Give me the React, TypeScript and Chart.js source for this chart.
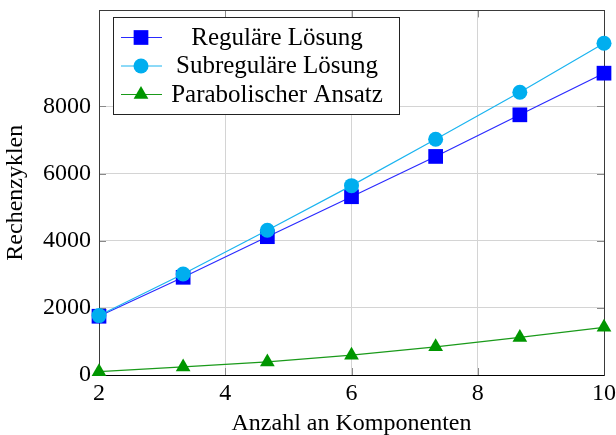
import React, { useEffect, useRef } from 'react';
import { Chart, registerables } from 'chart.js';

Chart.register(...registerables);

const xValues = [2, 3.333, 4.667, 6, 7.333, 8.667, 10];
const regular = [1750, 2910, 4120, 5310, 6510, 7750, 8990];
const subregular = [1770, 3010, 4310, 5640, 7020, 8420, 9880];
const parabolic = [100, 240, 390, 590, 840, 1120, 1420];
const seriesLabels = ['Reguläre Lösung', 'Subreguläre Lösung', 'Parabolischer Ansatz'];
const xTicks = [2, 4, 6, 8, 10];
const yTicks = [0, 2000, 4000, 6000, 8000];
const xTitle = 'Anzahl an Komponenten';
const yTitle = 'Rechenzyklen';

const FONT = '"Liberation Serif", "Times New Roman", serif';

function drawMarker(ctx: CanvasRenderingContext2D, style: string, x: number, y: number, r: number, color: string) {
  ctx.save();
  ctx.fillStyle = color;
  ctx.beginPath();
  if (style === 'rect') {
    const s = Math.SQRT1_2 * r;
    ctx.rect(x - s, y - s, 2 * s, 2 * s);
  } else if (style === 'triangle') {
    for (let k = 0; k < 3; k++) {
      const a = (k * 2 * Math.PI) / 3;
      const px = x + Math.sin(a) * r;
      const py = y - Math.cos(a) * r;
      if (k === 0) ctx.moveTo(px, py);
      else ctx.lineTo(px, py);
    }
    ctx.closePath();
  } else {
    ctx.arc(x, y, r, 0, Math.PI * 2);
  }
  ctx.fill();
  ctx.restore();
}

const framePlugin = {
  id: 'frame',
  beforeDatasetsDraw(chart: any) {
    const { ctx, chartArea: a, scales } = chart;
    ctx.save();
    ctx.strokeStyle = '#8a8a8a';
    ctx.lineWidth = 1;
    const tl = 7;
    xTicks.forEach((v) => {
      const px = Math.round(scales.x.getPixelForValue(v)) + 0.5;
      ctx.beginPath();
      ctx.moveTo(px, a.bottom);
      ctx.lineTo(px, a.bottom - tl);
      ctx.moveTo(px, a.top);
      ctx.lineTo(px, a.top + tl);
      ctx.stroke();
    });
    yTicks.forEach((v) => {
      const py = Math.round(scales.y.getPixelForValue(v)) + 0.5;
      ctx.beginPath();
      ctx.moveTo(a.left, py);
      ctx.lineTo(a.left + tl, py);
      ctx.moveTo(a.right, py);
      ctx.lineTo(a.right - tl, py);
      ctx.stroke();
    });
    ctx.strokeStyle = '#3a3a3a';
    ctx.strokeRect(Math.round(a.left) + 0.5, Math.round(a.top) + 0.5, Math.round(a.right - a.left), Math.round(a.bottom - a.top));
    ctx.beginPath();
    ctx.strokeStyle = '#000';
    ctx.moveTo(a.left, Math.round(a.bottom) + 0.5);
    ctx.lineTo(a.right, Math.round(a.bottom) + 0.5);
    ctx.stroke();
    ctx.restore();
  },
};

const legendPlugin = {
  id: 'boxLegend',
  afterDraw(chart: any) {
    const { ctx, chartArea: a } = chart;
    const x0 = Math.round(a.left) + 14;
    const y0 = Math.round(a.top) + 7;
    const w = 286;
    const h = 97;
    ctx.save();
    ctx.fillStyle = '#fff';
    ctx.fillRect(x0, y0, w, h);
    ctx.strokeStyle = '#222';
    ctx.lineWidth = 1;
    ctx.strokeRect(x0 + 0.5, y0 + 0.5, w, h);
    chart.data.datasets.forEach((ds: any, i: number) => {
      const cy = y0 + 20.5 + i * 28.5;
      ctx.strokeStyle = ds.borderColor;
      ctx.lineWidth = 1;
      ctx.beginPath();
      ctx.moveTo(x0 + 8, cy);
      ctx.lineTo(x0 + 49, cy);
      ctx.stroke();
      drawMarker(ctx, ds.pointStyle, x0 + 28, cy, ds.pointRadius, ds.pointBackgroundColor);
      ctx.fillStyle = '#000';
      ctx.font = `25px ${FONT}`;
      ctx.textAlign = 'center';
      ctx.textBaseline = 'alphabetic';
      ctx.fillText(ds.label, x0 + 164, cy + 7);
    });
    ctx.restore();
  },
};

export default function App() {
  const ref = useRef<HTMLCanvasElement>(null);

  useEffect(() => {
    document.body.style.margin = '0';
    const canvas = ref.current;
    if (!canvas) return;
    const mk = (vals: number[]) => xValues.map((x, i) => ({ x, y: vals[i] }));
    const chart = new Chart(canvas, {
      type: 'line',
      data: {
        datasets: [
          {
            label: seriesLabels[0],
            data: mk(regular),
            borderColor: '#2a2aff',
            backgroundColor: '#0000ff',
            pointBackgroundColor: '#0000ff',
            pointBorderColor: '#0000ff',
            pointBorderWidth: 0,
            pointStyle: 'rect',
            pointRadius: 10.4,
            borderWidth: 1.2,
            order: 2,
            clip: false,
          } as any,
          {
            label: seriesLabels[1],
            data: mk(subregular),
            borderColor: '#1ab4f0',
            backgroundColor: '#00aeef',
            pointBackgroundColor: '#00aeef',
            pointBorderColor: '#00aeef',
            pointBorderWidth: 0,
            pointStyle: 'circle',
            pointRadius: 7.5,
            borderWidth: 1.2,
            order: 1,
            clip: false,
          } as any,
          {
            label: seriesLabels[2],
            data: mk(parabolic),
            borderColor: '#1a9a1a',
            backgroundColor: '#009600',
            pointBackgroundColor: '#009600',
            pointBorderColor: '#009600',
            pointBorderWidth: 0,
            pointStyle: 'triangle',
            pointRadius: 8.5,
            borderWidth: 1.2,
            order: 0,
            clip: false,
          } as any,
        ],
      },
      options: {
        animation: false,
        responsive: false,
        devicePixelRatio: 1,
        layout: { padding: { top: 7, right: 12, left: 0, bottom: 0 } },
        plugins: { legend: { display: false }, tooltip: { enabled: false } },
        scales: {
          x: {
            type: 'linear',
            min: 2,
            max: 10,
            afterBuildTicks: (s: any) => {
              s.ticks = xTicks.map((v) => ({ value: v }));
            },
            afterFit: (s: any) => {
              s.height = 60;
              s.paddingLeft = 0;
              s.paddingRight = 0;
              s.paddingTop = 0;
              s.paddingBottom = 0;
            },
            grid: { color: '#d4d4d4', lineWidth: 1, drawTicks: false },
            border: { display: false },
            ticks: {
              autoSkip: false,
              maxRotation: 0,
              padding: 4,
              color: '#000',
              font: { family: FONT, size: 24 },
            },
            title: {
              display: true,
              text: xTitle,
              color: '#000',
              font: { family: FONT, size: 24, lineHeight: 1.0 },
              padding: { top: 0, bottom: -1 },
            },
          },
          y: {
            type: 'linear',
            min: 0,
            max: 10860,
            afterBuildTicks: (s: any) => {
              s.ticks = yTicks.map((v) => ({ value: v }));
            },
            afterFit: (s: any) => {
              s.width = 99;
              s.paddingLeft = 0;
              s.paddingRight = 0;
              s.paddingTop = 0;
              s.paddingBottom = 0;
            },
            grid: { color: '#d4d4d4', lineWidth: 1, drawTicks: false },
            border: { display: false },
            ticks: {
              padding: 8,
              color: '#000',
              font: { family: FONT, size: 24 },
              callback: (v: any) => String(v),
            },
            title: {
              display: true,
              text: yTitle,
              color: '#000',
              font: { family: FONT, size: 24, lineHeight: 1.0 },
              padding: { top: 4, bottom: 0 },
            },
          },
        },
      },
      plugins: [framePlugin, legendPlugin],
    });
    return () => chart.destroy();
  }, []);

  return (
    <div style={{ width: 616, height: 435 }}>
      <canvas ref={ref} width={616} height={435} style={{ display: 'block' }} />
    </div>
  );
}
